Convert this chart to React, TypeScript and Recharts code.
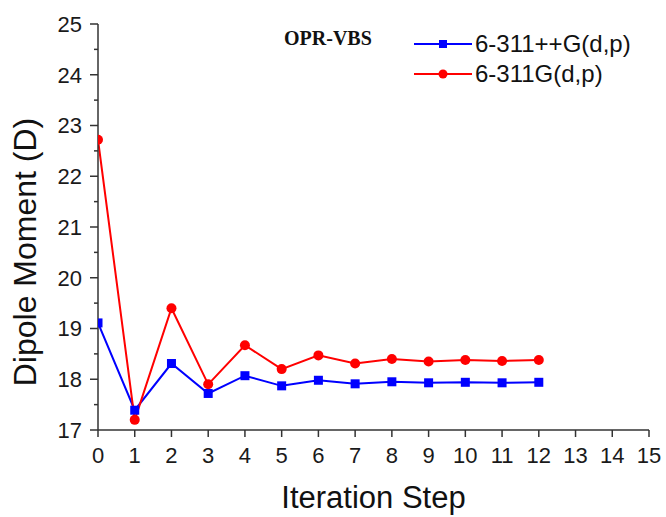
import React from 'react';
import { LineChart, Line, XAxis, YAxis, Legend } from 'recharts';

const steps = [0, 1, 2, 3, 4, 5, 6, 7, 8, 9, 10, 11, 12];
const diffuseValues = [19.11, 17.39, 18.31, 17.72, 18.07, 17.87, 17.98, 17.91, 17.95, 17.93, 17.94, 17.93, 17.94];
const plainValues = [22.72, 17.2, 19.4, 17.9, 18.67, 18.2, 18.47, 18.31, 18.4, 18.35, 18.38, 18.36, 18.38];
const xTicks = [0, 1, 2, 3, 4, 5, 6, 7, 8, 9, 10, 11, 12, 13, 14, 15];
const yTicks = [17, 17.5, 18, 18.5, 19, 19.5, 20, 20.5, 21, 21.5, 22, 22.5, 23, 23.5, 24, 24.5, 25];
const seriesNames = ['6-311++G(d,p)', '6-311G(d,p)'];
const seriesColors = ['#0000ff', '#ff0000'];
const annotation = 'OPR-VBS';
const xTitle = 'Iteration Step';
const yTitle = 'Dipole Moment (D)';

const data = steps.map((s, i) => ({ step: s, a: diffuseValues[i], b: plainValues[i] }));

const AXIS = '#333333';
const FONT = '"Liberation Sans", Arial, sans-serif';
const Y_TICK_SIZE = 8;
const Y_TICK_MARGIN = 8;

const YTick = (props: any) => {
  const { x, y, payload } = props;
  const v = payload.value as number;
  const major = Number.isInteger(v);
  const edge = x + Y_TICK_MARGIN + Y_TICK_SIZE;
  const len = major ? 8 : 4;
  return (
    <g>
      <line x1={edge - len} x2={edge} y1={y} y2={y} stroke={AXIS} strokeWidth={1.5} />
      {major && (
        <text x={x} y={y} dy="0.355em" textAnchor="end" fontSize={22} fontFamily={FONT} fill="#1a1a1a">
          {v}
        </text>
      )}
    </g>
  );
};

const YTitle = (props: any) => {
  const { x, y, height } = props.viewBox;
  const cx = x + 36;
  const cy = y + height / 2 + 25;
  return (
    <text x={cx} y={cy} transform={`rotate(-90 ${cx} ${cy})`} textAnchor="middle" fontSize={32} fontFamily={FONT} fill="#111">
      {yTitle}
    </text>
  );
};

const XTitle = (props: any) => {
  const { x, y, width } = props.viewBox;
  return (
    <text x={x + width / 2} y={y + 78} textAnchor="middle" fontSize={31} fontFamily={FONT} fill="#111">
      {xTitle}
    </text>
  );
};

const SquareDot = (props: any) => {
  const { cx, cy, index } = props;
  if (cx == null || cy == null) return <g key={`sq-${index}`} />;
  return <rect key={`sq-${index}`} x={cx - 4.5} y={cy - 4.5} width={9} height={9} fill={seriesColors[0]} />;
};

const LegendContent = (props: any) => {
  const payload = props.payload || [];
  return (
    <div>
      {payload.map((p: any, i: number) => (
        <div key={i} style={{ display: 'flex', alignItems: 'center', height: 30 }}>
          <svg width={58} height={30} style={{ display: 'block' }}>
            <line x1={0} x2={58} y1={15} y2={15} stroke={p.color} strokeWidth={2} />
            {p.dataKey === 'a' ? (
              <rect x={25} y={11} width={8} height={8} fill={p.color} />
            ) : (
              <circle cx={29} cy={15} r={4.5} fill={p.color} />
            )}
          </svg>
          <span style={{ fontSize: 24, fontFamily: FONT, color: '#111', marginLeft: 3, lineHeight: '30px', whiteSpace: 'nowrap' }}>
            {p.value}
          </span>
        </div>
      ))}
    </div>
  );
};

export default function App() {
  return (
    <div style={{ position: 'absolute', left: 0, top: 0, width: 666, height: 517, background: '#fff' }}>
      <LineChart width={666} height={517} data={data} margin={{ top: 24, right: 17, left: 0, bottom: 0 }}>
        <XAxis
          dataKey="step"
          type="number"
          domain={[0, 15]}
          ticks={xTicks}
          interval={0}
          allowDataOverflow
          height={87}
          tickSize={7}
          tickMargin={10}
          axisLine={{ stroke: AXIS, strokeWidth: 1.5 }}
          tickLine={{ stroke: AXIS, strokeWidth: 1.5 }}
          tick={{ fontSize: 22, fontFamily: FONT, fill: '#1a1a1a' }}
          label={<XTitle />}
        />
        <XAxis
          xAxisId="top"
          orientation="top"
          type="number"
          domain={[0, 15]}
          height={0}
          tick={false}
          tickLine={false}
          axisLine={{ stroke: AXIS, strokeWidth: 1.5 }}
        />
        <YAxis
          type="number"
          domain={[17, 25]}
          ticks={yTicks}
          interval={0}
          width={98}
          tickSize={Y_TICK_SIZE}
          tickMargin={Y_TICK_MARGIN}
          tickLine={false}
          axisLine={{ stroke: AXIS, strokeWidth: 1.5 }}
          tick={<YTick />}
          label={<YTitle />}
        />
        <YAxis
          yAxisId="right"
          orientation="right"
          type="number"
          domain={[17, 25]}
          width={0}
          tick={false}
          tickLine={false}
          axisLine={{ stroke: AXIS, strokeWidth: 1.5 }}
        />
        <Legend
          layout="vertical"
          align="center"
          verticalAlign="middle"
          content={<LegendContent />}
          wrapperStyle={{ position: 'absolute', left: 414, top: 29, width: 'auto', height: 'auto' }}
        />
        <Line
          dataKey="a"
          name={seriesNames[0]}
          stroke={seriesColors[0]}
          strokeWidth={2}
          dot={SquareDot}
          activeDot={false}
          isAnimationActive={false}
        />
        <Line
          dataKey="b"
          name={seriesNames[1]}
          stroke={seriesColors[1]}
          strokeWidth={2}
          dot={{ r: 5, fill: seriesColors[1], stroke: seriesColors[1], strokeWidth: 0 }}
          activeDot={false}
          isAnimationActive={false}
        />
      </LineChart>
      <svg width={666} height={517} style={{ position: 'absolute', left: 0, top: 0, pointerEvents: 'none' }}>
        <text x={284} y={45} fontFamily='"Liberation Serif", "Times New Roman", serif' fontWeight="bold" fontSize={20} fill="#111">
          {annotation}
        </text>
      </svg>
    </div>
  );
}
